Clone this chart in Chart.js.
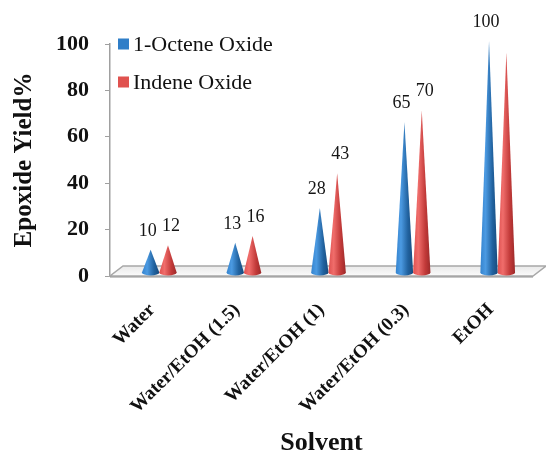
<!DOCTYPE html>
<html>
<head>
<meta charset="utf-8">
<script src="https://cdn.jsdelivr.net/npm/chart.js@4/dist/chart.umd.min.js"></script>
<style>
  html, body { margin: 0; padding: 0; background: #ffffff; }
  #wrap { width: 546px; height: 453px; }
</style>
</head>
<body>
<div id="wrap"><canvas id="c" width="546" height="453"></canvas></div>
<script>
// Solvent categories and epoxide yields (%) per substrate
const categories = ['Water', 'Water/EtOH (1.5)', 'Water/EtOH (1)', 'Water/EtOH (0.3)', 'EtOH'];
const octeneOxide = [10, 13, 28, 65, 100];
const indeneOxide = [12, 16, 43, 70, 95];
// value labels printed above the cones (null = no label)
const octeneLabels = ['10', '13', '28', '65', '100'];
const indeneLabels = ['12', '16', '43', '70', null];
const seriesNames = ['1-Octene Oxide', 'Indene Oxide'];
const yTicks = [0, 20, 40, 60, 80, 100];

const SERIF = '"Liberation Serif", "Times New Roman", serif';

// cone shading palettes: [left, highlight, shade, right edge]
const palettes = [
  ['#3584cf', '#4b9ae2', '#21629f', '#174b7d'],
  ['#de5150', '#f06d6b', '#c23a39', '#9c2a2a']
];
const legendColors = ['#2f7ec8', '#e0524f'];
const valueLabels = [octeneLabels, indeneLabels];

// depth shift of the series plane relative to the front of the floor
const DEPTH_X = 7, DEPTH_Y = -3;
// back edge of the floor relative to its front edge
const FLOOR_DX = 13, FLOOR_DY = -10;

const floorPlugin = {
  id: 'floor',
  beforeDatasetsDraw(chart) {
    const { ctx, chartArea } = chart;
    const y0 = chart.scales.y.getPixelForValue(0);
    const l = chartArea.left, r = chartArea.right;
    ctx.save();
    ctx.beginPath();
    ctx.moveTo(l, y0);
    ctx.lineTo(r, y0);
    ctx.lineTo(r + FLOOR_DX, y0 + FLOOR_DY);
    ctx.lineTo(l + FLOOR_DX, y0 + FLOOR_DY);
    ctx.closePath();
    const g = ctx.createLinearGradient(0, y0 + FLOOR_DY, 0, y0);
    g.addColorStop(0, '#e9e9e9');
    g.addColorStop(1, '#fbfbfb');
    ctx.fillStyle = g;
    ctx.fill();
    ctx.lineWidth = 1.5;
    ctx.strokeStyle = '#a8a8a8';
    ctx.stroke();
    ctx.beginPath();
    ctx.moveTo(l, y0 + 1);
    ctx.lineTo(r, y0 + 1);
    ctx.strokeStyle = '#8f8f8f';
    ctx.lineWidth = 1;
    ctx.stroke();
    ctx.restore();
  }
};

const conePlugin = {
  id: 'cones',
  afterDatasetsDraw(chart) {
    const { ctx } = chart;
    ctx.save();
    chart.data.datasets.forEach((ds, di) => {
      const meta = chart.getDatasetMeta(di);
      const pal = palettes[di];
      meta.data.forEach((bar, i) => {
        const p = bar.getProps(['x', 'y', 'base', 'width'], true);
        const cx = p.x + DEPTH_X;
        const hw = p.width / 2;
        const baseY = p.base + DEPTH_Y;
        const tipY = p.y + DEPTH_Y;
        const ry = 3;
        ctx.beginPath();
        ctx.moveTo(cx, tipY);
        ctx.lineTo(cx + hw, baseY);
        ctx.ellipse(cx, baseY, hw, ry, 0, 0, Math.PI, false);
        ctx.lineTo(cx, tipY);
        ctx.closePath();
        const g = ctx.createLinearGradient(cx - hw, 0, cx + hw, 0);
        g.addColorStop(0, pal[0]);
        g.addColorStop(0.3, pal[1]);
        g.addColorStop(0.7, pal[2]);
        g.addColorStop(1, pal[3]);
        ctx.fillStyle = g;
        ctx.fill();

        const txt = valueLabels[di][i];
        if (txt) {
          ctx.font = '18px ' + SERIF;
          ctx.fillStyle = '#151515';
          ctx.textAlign = 'center';
          ctx.textBaseline = 'middle';
          ctx.fillText(txt, cx + (di === 0 ? -3 : 3), tipY - 19);
        }
      });
    });
    ctx.restore();
  }
};

const legendPlugin = {
  id: 'cornerLegend',
  afterDraw(chart) {
    const { ctx } = chart;
    ctx.save();
    ctx.font = '22px ' + SERIF;
    ctx.textAlign = 'left';
    ctx.textBaseline = 'middle';
    const rows = [44, 82];
    seriesNames.forEach((name, i) => {
      ctx.fillStyle = legendColors[i];
      ctx.fillRect(118, rows[i] - 5.5, 11, 11);
      ctx.fillStyle = '#111111';
      ctx.fillText(name, 133, rows[i] + 1);
    });
    ctx.restore();
  }
};

new Chart(document.getElementById('c'), {
  type: 'bar',
  data: {
    labels: categories,
    datasets: [
      { label: seriesNames[0], data: octeneOxide, backgroundColor: 'rgba(0,0,0,0)', borderWidth: 0 },
      { label: seriesNames[1], data: indeneOxide, backgroundColor: 'rgba(0,0,0,0)', borderWidth: 0 }
    ]
  },
  options: {
    responsive: false,
    animation: false,
    devicePixelRatio: 1,
    categoryPercentage: 0.41,
    barPercentage: 1.0,
    layout: { padding: { left: 0, right: 13, top: 44, bottom: 0 } },
    plugins: {
      legend: { display: false },
      tooltip: { enabled: false }
    },
    scales: {
      x: {
        grid: { display: false, drawTicks: false },
        border: { display: false },
        ticks: {
          minRotation: 45,
          maxRotation: 45,
          padding: 23,
          color: '#111111',
          font: { family: SERIF, size: 19, weight: 'bold' }
        },
        title: {
          display: true,
          text: 'Solvent',
          color: '#111111',
          font: { family: SERIF, size: 26, weight: 'bold', lineHeight: 1 },
          padding: { top: 0, bottom: -3 }
        },
        afterFit(scale) { scale.height = 177; }
      },
      y: {
        min: 0,
        max: 100,
        afterBuildTicks(scale) { scale.ticks = yTicks.map(v => ({ value: v })); },
        grid: { drawOnChartArea: false, drawTicks: true, tickLength: 5, color: '#a0a0a0' },
        border: { display: true, color: '#a0a0a0', width: 1.5 },
        ticks: {
          padding: 16,
          color: '#111111',
          font: { family: SERIF, size: 22, weight: 'bold' }
        },
        title: {
          display: true,
          text: 'Epoxide Yield%',
          color: '#111111',
          font: { family: SERIF, size: 25, weight: 'bold' },
          padding: { top: 10, bottom: 0 }
        },
        afterFit(scale) { scale.width = 110; }
      }
    }
  },
  plugins: [floorPlugin, conePlugin, legendPlugin]
});
</script>
</body>
</html>
